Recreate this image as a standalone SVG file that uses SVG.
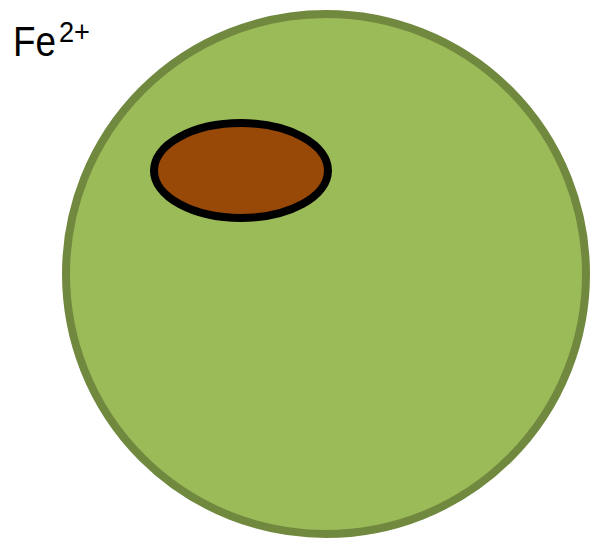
<svg xmlns="http://www.w3.org/2000/svg" width="590" height="543" viewBox="0 0 590 543">
<style>
.lbl{font-family:"Liberation Sans",Arial,sans-serif;fill:#000}
</style>
<rect width="590" height="543" fill="#fff"/>
<g id="cell">
<circle cx="326" cy="274" r="260" fill="#9BBB59" stroke="#71893F" stroke-width="8"/>
</g>
<g id="nucleus">
<ellipse cx="241" cy="170.5" rx="87" ry="47.5" fill="#984807" stroke="#000" stroke-width="8"/>
</g>
<g id="label">
<text class="lbl" x="13" y="56" font-size="42" textLength="43" lengthAdjust="spacingAndGlyphs">Fe</text>
<text class="lbl" x="59" y="42" font-size="29" textLength="31" lengthAdjust="spacingAndGlyphs">2+</text>
</g>
</svg>
